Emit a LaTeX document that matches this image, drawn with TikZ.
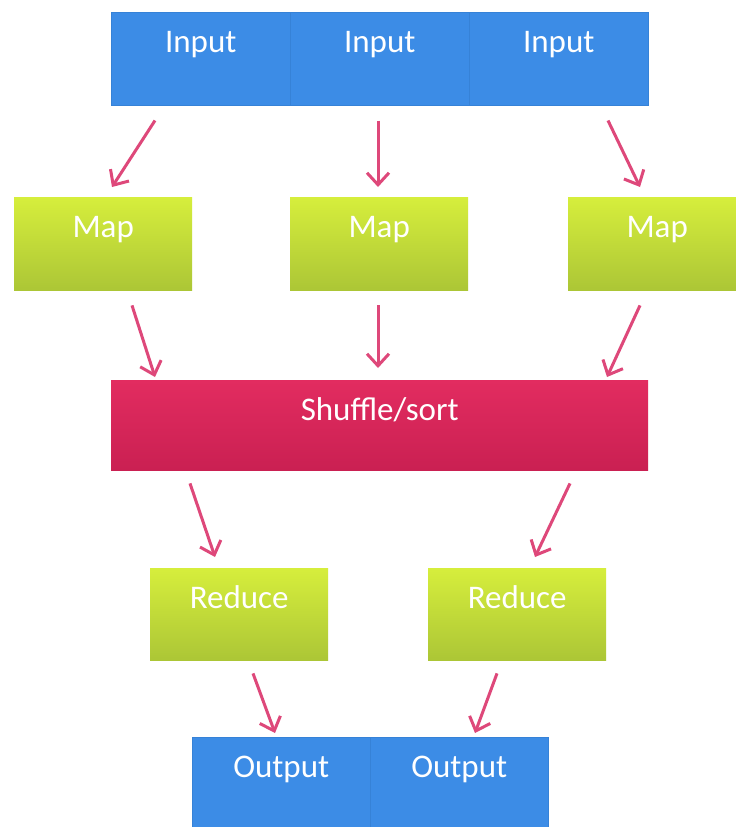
\documentclass[tikz,border=0pt]{standalone}
\usepackage{fontspec}
\setmainfont{Carlito}
\usetikzlibrary{arrows.meta}
\definecolor{inblue}{RGB}{60,140,230}
\definecolor{inblueedge}{RGB}{54,130,215}
\definecolor{greentop}{RGB}{214,238,60}
\definecolor{greenbot}{RGB}{172,198,54}
\definecolor{pinktop}{RGB}{226,44,96}
\definecolor{pinkbot}{RGB}{202,32,82}
\definecolor{arrowpink}{RGB}{222,72,122}
\tikzset{
  x=1pt, y=-1pt,
  box/.style={anchor=north west, inner sep=0pt, text=white, font=\fontsize{33}{36}\selectfont,
    text height=40pt, minimum width=178pt, align=center},
  bluebox/.style={box, fill=inblue, draw=inblueedge, line width=0.5pt, text depth=53pt},
  greenbox/.style={box, top color=greentop, bottom color=greenbot, text depth=53pt},
  pinkbox/.style={box, top color=pinktop, bottom color=pinkbot, minimum width=537pt, text depth=50pt},
  flow/.style={draw=arrowpink, line width=3pt,
    -{Straight Barb[length=12pt,width=22pt,line width=3pt]}},
}
\begin{document}
\begin{tikzpicture}
\clip (0,0) rectangle (736,827);
\fill[white] (0,0) rectangle (736,827);

% input splits
\node[bluebox, minimum width=179pt] (in1) at (111,12) {Input};
\node[bluebox, minimum width=179pt] (in2) at (290,12) {Input};
\node[bluebox, minimum width=179pt] (in3) at (469,12) {Input};

% map tasks
\node[greenbox] (m1) at (14,197) {Map};
\node[greenbox] (m2) at (290,197) {Map};
\node[greenbox] (m3) at (568,197) {Map};

% shuffle stage
\node[pinkbox] (sh) at (111,380) {Shuffle/sort};

% reduce tasks
\node[greenbox, text depth=52pt] (r1) at (150,568) {Reduce};
\node[greenbox, text depth=52pt] (r2) at (428,568) {Reduce};

% outputs
\node[bluebox] (o1) at (192,737) {Output};
\node[bluebox] (o2) at (370,737) {Output};

% data flow
\draw[flow] ([shift={(44,15)}]in1.south west) -- ([shift={(98,-10)}]m1.north west);
\draw[flow] ([shift={(88,15)}]in2.south west) -- ([shift={(88,-10)}]m2.north west);
\draw[flow] ([shift={(139,15)}]in3.south west) -- ([shift={(72,-10)}]m3.north west);

\draw[flow] ([shift={(118,15)}]m1.south west) -- ([shift={(44,-3)}]sh.north west);
\draw[flow] ([shift={(88,15)}]m2.south west) -- ([shift={(267,-12)}]sh.north west);
\draw[flow] ([shift={(72,15)}]m3.south west) -- ([shift={(496,-3)}]sh.north west);

\draw[flow] ([shift={(79,13)}]sh.south west) -- ([shift={(65,-11)}]r1.north west);
\draw[flow] ([shift={(459,13)}]sh.south west) -- ([shift={(107,-11)}]r2.north west);

\draw[flow] ([shift={(103,13)}]r1.south west) -- ([shift={(83,-4)}]o1.north west);
\draw[flow] ([shift={(69,13)}]r2.south west) -- ([shift={(105,-4)}]o2.north west);
\end{tikzpicture}
\end{document}
